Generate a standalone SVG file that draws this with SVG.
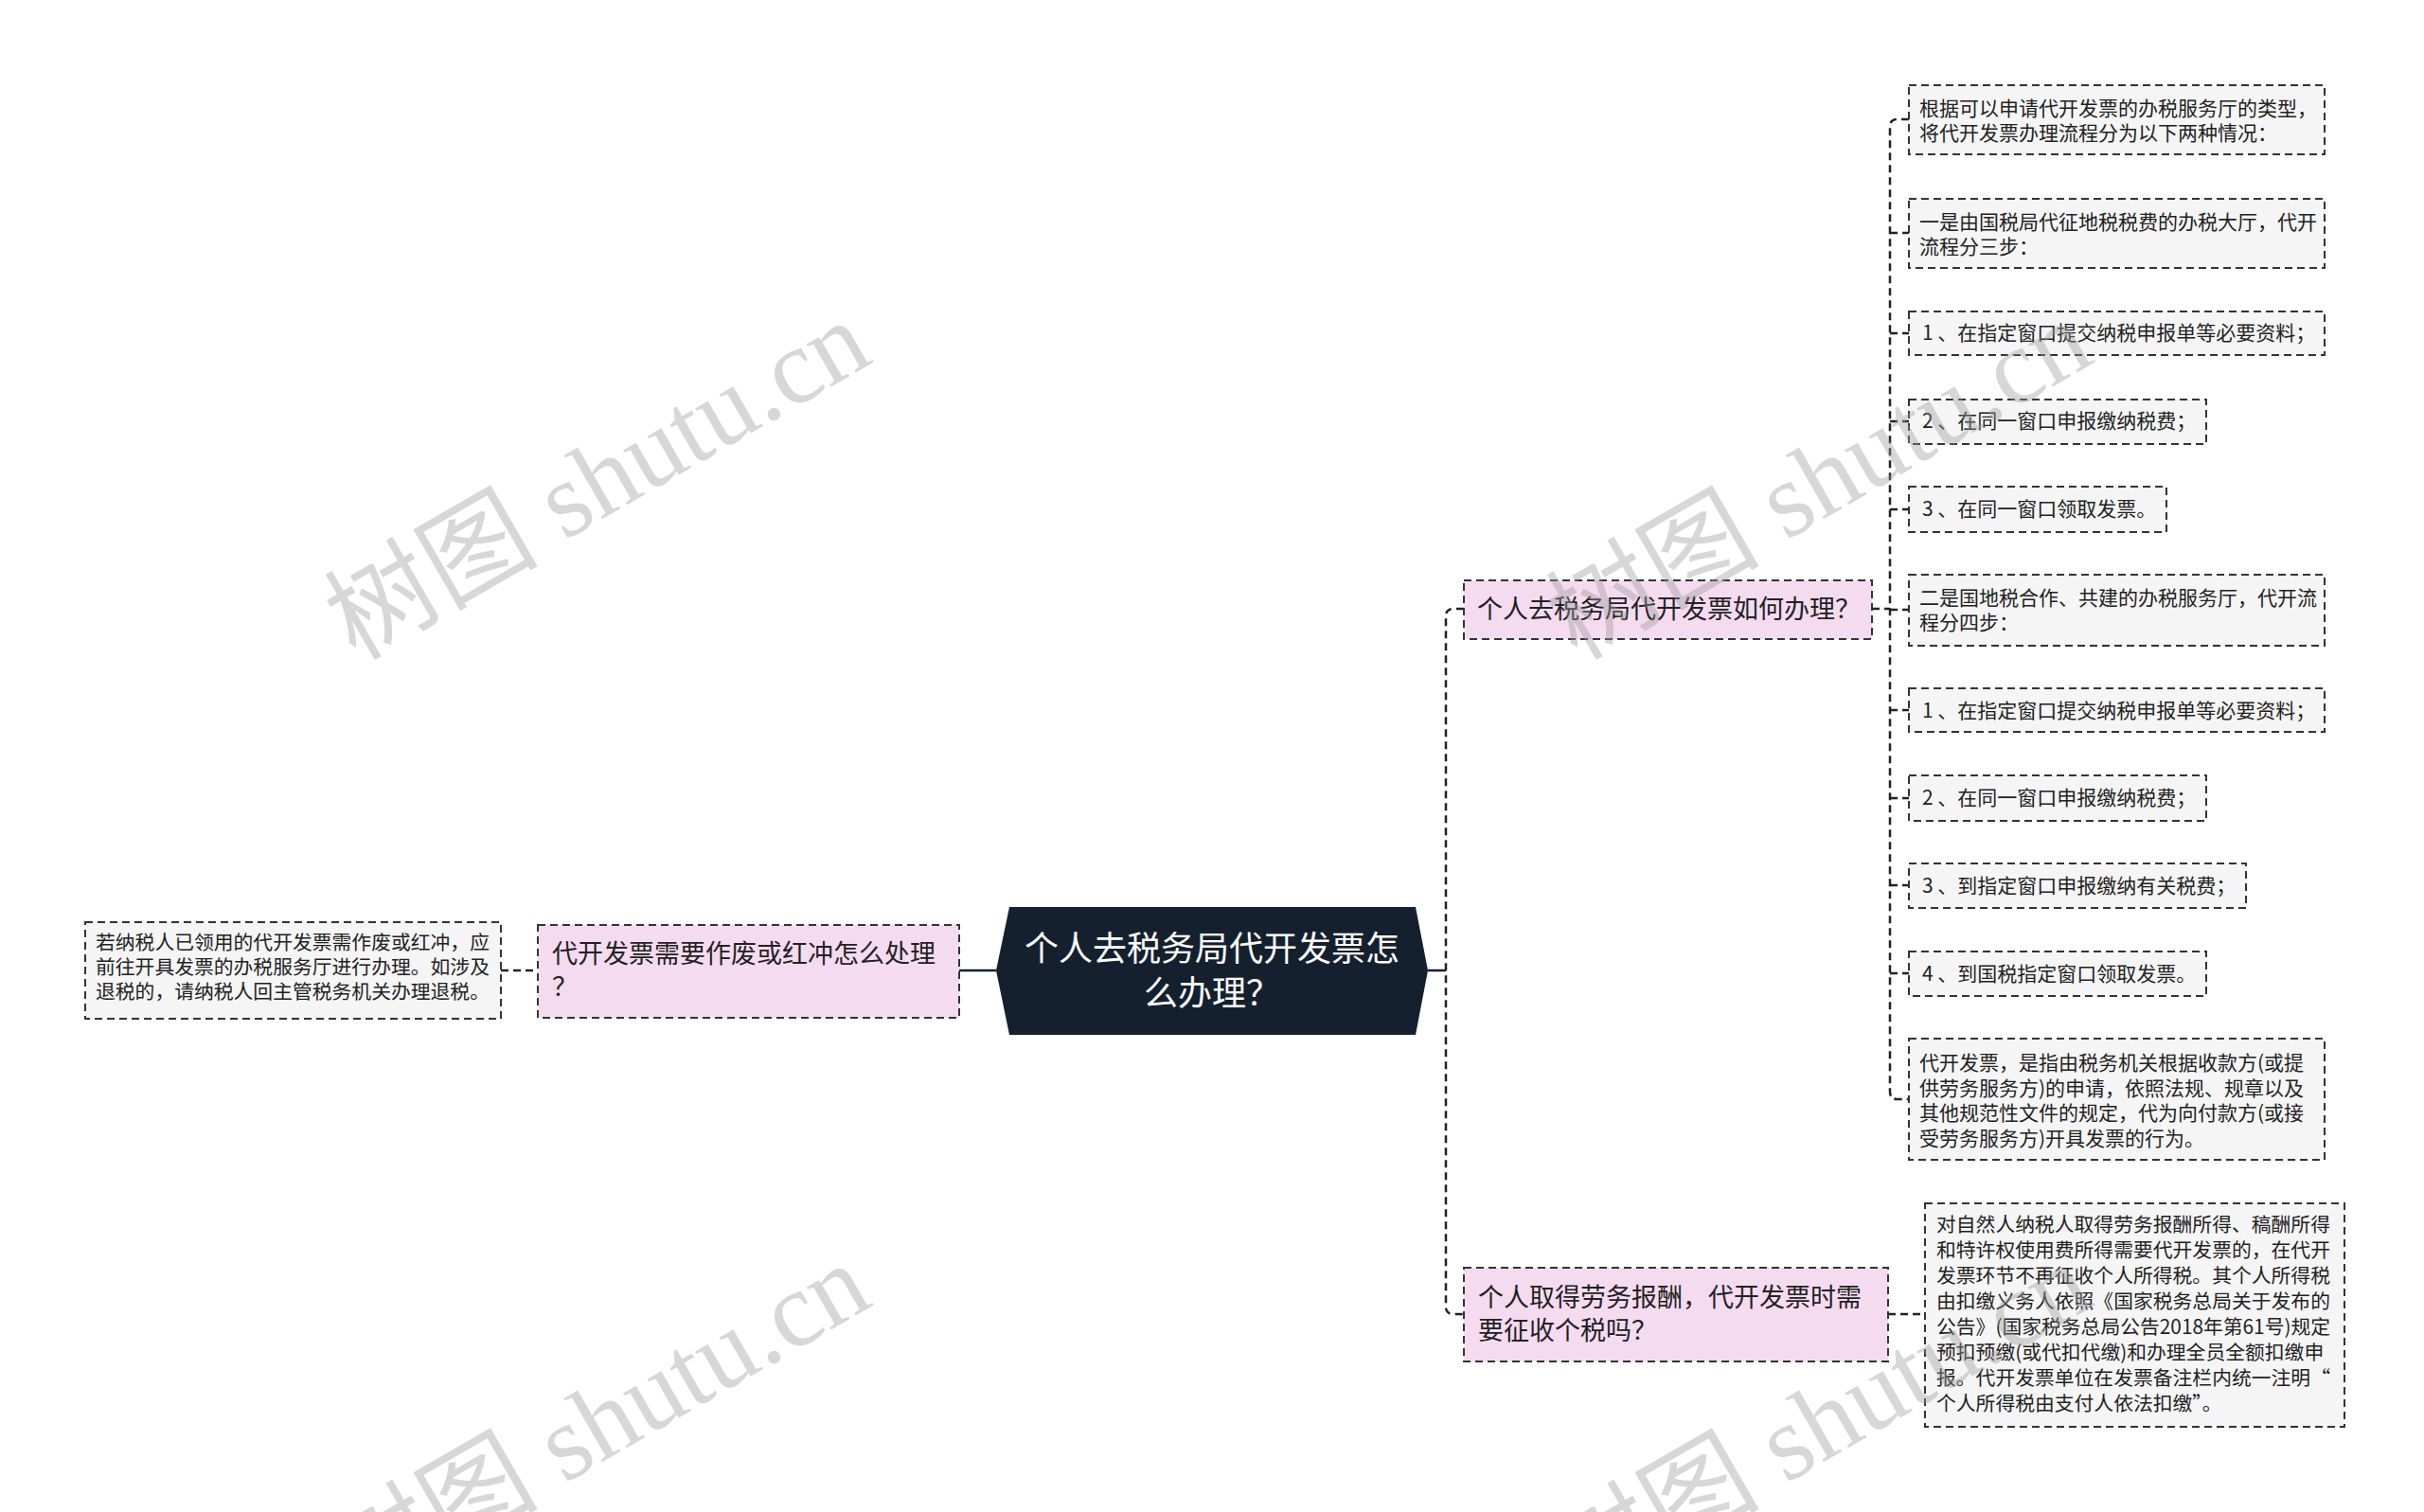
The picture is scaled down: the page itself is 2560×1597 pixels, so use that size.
<svg xmlns="http://www.w3.org/2000/svg" width="2560" height="1597" viewBox="0 0 2560 1597">
<style>
.t{font-family:"Noto Sans CJK SC","Noto Sans",sans-serif;fill:#222;}
.leaf{fill:#f5f5f5;stroke:#333;stroke-width:2;stroke-dasharray:8 5;}
.br{fill:#f5dbf0;stroke:#333;stroke-width:2;stroke-dasharray:8 5;}
.s21{font-size:21px;}
.s20{font-size:20.8px;}
.s27{font-size:27px;}
.con{fill:none;stroke:#222;stroke-width:2.5;stroke-dasharray:8 5;}
.solid{fill:none;stroke:#15202f;stroke-width:2.5;}
.wm{font-family:"Liberation Serif","Noto Sans CJK SC",serif;font-size:113px;fill:#9a9a9a;fill-opacity:0.4;}
</style>
<rect width="2560" height="1597" fill="#ffffff"/>
<g id="connectors">
<path class="solid" d="M1508,1025 H1527"/>
<path class="con" d="M1546,643 H1535 Q1527,643 1527,651 V1380 Q1527,1388 1535,1388 H1546"/>
<path class="solid" d="M1013,1025 H1052"/>
<path class="con" d="M529,1025 H568"/>
<path class="con" d="M1994,1388 H2033"/>
<path class="con" d="M1977,643 H1996"/>
<path class="con" d="M2016,126 H2004 Q1996,126 1996,134 V1153 Q1996,1161 2004,1161 H2016"/>
<path class="con" d="M1996,246 H2016 M1996,352 H2016 M1996,445 H2016 M1996,538 H2016 M1996,644 H2016 M1996,750 H2016 M1996,843 H2016 M1996,935 H2016 M1996,1028 H2016"/>
</g>
<g id="root">
<polygon points="1066,958 1495,958 1508,1025 1495,1093 1066,1093 1052,1025" fill="#15202f"/>
<text x="1280" y="1015" text-anchor="middle" font-family="Noto Sans CJK SC, sans-serif" font-size="36" fill="#ffffff">个人去税务局代开发票怎</text>
<text x="1280" y="1062" text-anchor="middle" font-family="Noto Sans CJK SC, sans-serif" font-size="36" fill="#ffffff">么办理？</text>
</g>
<g id="branch-left">
<rect class="br" x="568" y="977" width="445" height="98"/>
<text class="t s27" x="583" y="1017">代开发票需要作废或红冲怎么处理</text>
<text class="t s27" x="583" y="1052">？</text>
</g>
<g id="leaf-left">
<rect class="leaf" x="90" y="974" width="439" height="102"/>
<text class="t s20" x="101" y="1003">若纳税人已领用的代开发票需作废或红冲，应</text>
<text class="t s20" x="101" y="1029">前往开具发票的办税服务厅进行办理。如涉及</text>
<text class="t s20" x="101" y="1055">退税的，请纳税人回主管税务机关办理退税。</text>
</g>
<g id="branch-1">
<rect class="br" x="1546" y="613" width="431" height="62"/>
<text class="t s27" x="1560" y="653">个人去税务局代开发票如何办理？</text>
</g>
<g id="branch-2">
<rect class="br" x="1546" y="1339" width="448" height="99"/>
<text class="t s27" x="1561" y="1380">个人取得劳务报酬，代开发票时需</text>
<text class="t s27" x="1561" y="1415">要征收个税吗？</text>
</g>
<g id="leaf-b2">
<rect class="leaf" x="2033" y="1271" width="443" height="236"/>
<text class="t s20" x="2045" y="1301">对自然人纳税人取得劳务报酬所得、稿酬所得</text>
<text class="t s20" x="2045" y="1328">和特许权使用费所得需要代开发票的，在代开</text>
<text class="t s20" x="2045" y="1355">发票环节不再征收个人所得税。其个人所得税</text>
<text class="t s20" x="2045" y="1382">由扣缴义务人依照《国家税务总局关于发布的</text>
<text class="t s20" x="2045" y="1409">公告》(国家税务总局公告2018年第61号)规定</text>
<text class="t s20" x="2045" y="1436">预扣预缴(或代扣代缴)和办理全员全额扣缴申</text>
<text class="t s20" x="2045" y="1463">报。代开发票单位在发票备注栏内统一注明“</text>
<text class="t s20" x="2045" y="1490">个人所得税由支付人依法扣缴”。</text>
</g>
<g id="leaf-1">
<rect class="leaf" x="2016" y="90" width="439" height="73"/>
<text class="t s21" x="2027" y="122">根据可以申请代开发票的办税服务厅的类型，</text>
<text class="t s21" x="2027" y="148">将代开发票办理流程分为以下两种情况：</text>
</g>
<g id="leaf-2">
<rect class="leaf" x="2016" y="210" width="439" height="73"/>
<text class="t s21" x="2027" y="242">一是由国税局代征地税税费的办税大厅，代开</text>
<text class="t s21" x="2027" y="268">流程分三步：</text>
</g>
<g id="leaf-3">
<rect class="leaf" x="2016" y="329" width="439" height="46"/>
<text class="t s21" x="2030" y="359">1 、在指定窗口提交纳税申报单等必要资料；</text>
</g>
<g id="leaf-4">
<rect class="leaf" x="2016" y="422" width="314" height="47"/>
<text class="t s21" x="2030" y="452">2 、在同一窗口申报缴纳税费；</text>
</g>
<g id="leaf-5">
<rect class="leaf" x="2016" y="514" width="272" height="48"/>
<text class="t s21" x="2030" y="545">3 、在同一窗口领取发票。</text>
</g>
<g id="leaf-6">
<rect class="leaf" x="2016" y="607" width="439" height="75"/>
<text class="t s21" x="2027" y="639">二是国地税合作、共建的办税服务厅，代开流</text>
<text class="t s21" x="2027" y="665">程分四步：</text>
</g>
<g id="leaf-7">
<rect class="leaf" x="2016" y="727" width="439" height="46"/>
<text class="t s21" x="2030" y="758">1 、在指定窗口提交纳税申报单等必要资料；</text>
</g>
<g id="leaf-8">
<rect class="leaf" x="2016" y="819" width="314" height="48"/>
<text class="t s21" x="2030" y="850">2 、在同一窗口申报缴纳税费；</text>
</g>
<g id="leaf-9">
<rect class="leaf" x="2016" y="912" width="356" height="47"/>
<text class="t s21" x="2030" y="943">3 、到指定窗口申报缴纳有关税费；</text>
</g>
<g id="leaf-10">
<rect class="leaf" x="2016" y="1005" width="314" height="47"/>
<text class="t s21" x="2030" y="1036">4 、到国税指定窗口领取发票。</text>
</g>
<g id="leaf-11">
<rect class="leaf" x="2016" y="1097" width="439" height="128"/>
<text class="t s21" x="2027" y="1130">代开发票，是指由税务机关根据收款方(或提</text>
<text class="t s21" x="2027" y="1157">供劳务服务方)的申请，依照法规、规章以及</text>
<text class="t s21" x="2027" y="1183">其他规范性文件的规定，代为向付款方(或接</text>
<text class="t s21" x="2027" y="1210">受劳务服务方)开具发票的行为。</text>
</g>
<g id="watermarks">
<text class="wm" x="650" y="540" text-anchor="middle" transform="rotate(-30 650 540)">树图 shutu.cn</text>
<text class="wm" x="1940" y="540" text-anchor="middle" transform="rotate(-30 1940 540)">树图 shutu.cn</text>
<text class="wm" x="650" y="1536" text-anchor="middle" transform="rotate(-30 650 1536)">树图 shutu.cn</text>
<text class="wm" x="1940" y="1536" text-anchor="middle" transform="rotate(-30 1940 1536)">树图 shutu.cn</text>
</g>
</svg>
